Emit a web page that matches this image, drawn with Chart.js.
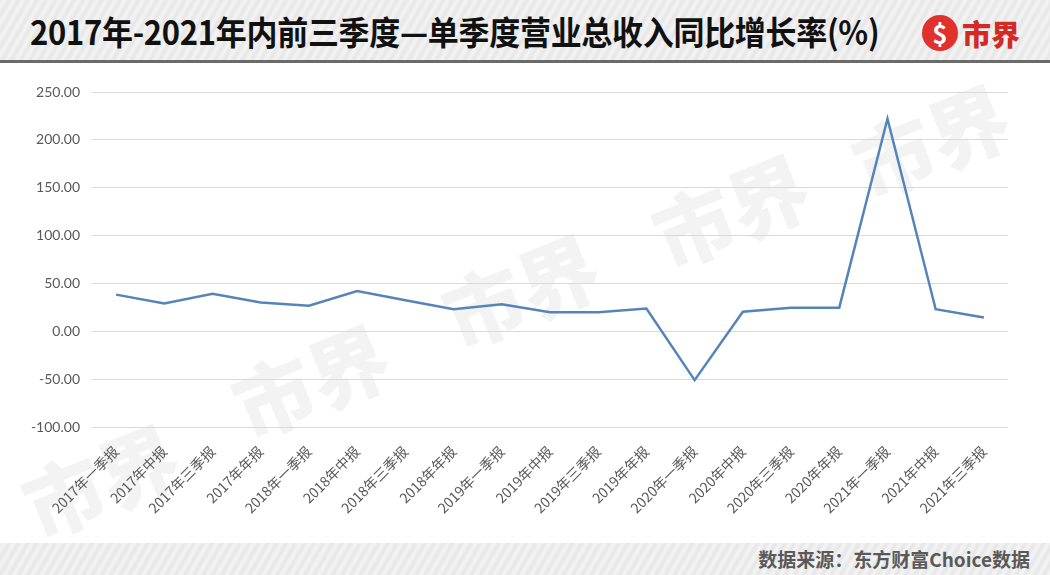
<!DOCTYPE html>
<html>
<head>
<meta charset="utf-8">
<script src="https://cdn.jsdelivr.net/npm/chart.js@4"></script>
<style>
  body { margin: 0; width: 1050px; height: 575px; overflow: hidden; background: #fff; font-family: "Noto Sans CJK SC", sans-serif; position: relative; }
  #head { position: absolute; left: 0; top: 0; width: 1050px; height: 60px;
    background: repeating-linear-gradient(120deg, #e6e6e6 0px, #f4f4f4 4px, #e6e6e6 8px); border-bottom: 3px solid #6b6b6b; }
  #title { position: absolute; left: 30px; top: 6px; font-size: 31px; font-weight: 700; color: #111; white-space: nowrap; letter-spacing: -0.3px; transform: scaleY(1.08); transform-origin: left top; }
  #logo { position: absolute; left: 922px; top: 15px; width: 36px; height: 36px; border-radius: 50%; background: #e0312c; }
  #logo span { position: absolute; left: 0; top: 1px; width: 36px; text-align: center; color: #fff; font-weight: 700; font-size: 26px; line-height: 34px; }
  #logotxt { position: absolute; left: 962px; top: 12px; font-size: 29px; font-weight: 900; color: #d22a25; }
  #foot { position: absolute; left: 0; top: 543px; width: 1050px; height: 32px;
    background: repeating-linear-gradient(120deg, #e6e6e6 0px, #f4f4f4 4px, #e6e6e6 8px); }
  #src { position: absolute; right: 20px; top: 2px; font-size: 19px; font-weight: 700; color: #595959; }
  #wrap { position: absolute; left: 0; top: 64px; width: 1050px; height: 479px; }
  .wm { position: absolute; font-size: 80px; font-weight: 900; color: #f3f3f3; transform: rotate(-22deg); white-space: nowrap; }
</style>
</head>
<body>
<div id="head">
  <div id="title">2017年-2021年内前三季度—单季度营业总收入同比增长率(%)</div>
  <div id="logo"><span>$</span></div>
  <div id="logotxt">市界</div>
</div>
<div class="wm" style="left:20px;top:420px;">市界</div>
<div class="wm" style="left:230px;top:320px;">市界</div>
<div class="wm" style="left:440px;top:230px;">市界</div>
<div class="wm" style="left:650px;top:150px;">市界</div>
<div class="wm" style="left:850px;top:80px;">市界</div>
<div id="wrap"><canvas id="c"></canvas></div>
<div id="foot"><div id="src">数据来源：东方财富Choice数据</div></div>
<script>
const categories = ['2017年一季报','2017年中报','2017年三季报','2017年年报','2018年一季报','2018年中报','2018年三季报','2018年年报','2019年一季报','2019年中报','2019年三季报','2019年年报','2020年一季报','2020年中报','2020年三季报','2020年年报','2021年一季报','2021年中报','2021年三季报'];
const growth = [38.3, 29.0, 39.3, 30.0, 26.8, 42.0, 32.4, 23.0, 28.2, 19.8, 19.8, 23.7, -51.0, 20.5, 24.7, 24.7, 222.0, 23.0, 14.3];

new Chart(document.getElementById('c'), {
  type: 'line',
  data: {
    labels: categories,
    datasets: [{
      data: growth,
      borderColor: '#5585b8',
      borderWidth: 2.5,
      pointRadius: 0,
      tension: 0,
      fill: false
    }]
  },
  options: {
    responsive: true,
    maintainAspectRatio: false,
    animation: false,
    layout: { padding: { left: 0, right: 42, top: 28, bottom: 14 } },
    plugins: { legend: { display: false }, tooltip: { enabled: false } },
    scales: {
      x: {
        offset: true,
        grid: { display: false },
        border: { display: false },
        afterFit: s => { s.height = 102; },
        ticks: { color: '#595959', padding: 8, font: { size: 14, family: '"Noto Sans CJK SC"' }, minRotation: 45, maxRotation: 45, autoSkip: false }
      },
      y: {
        min: -100, max: 250,
        afterFit: s => { s.width = 92; },
        grid: { color: '#d9d9d9', drawTicks: false },
        border: { display: false },
        ticks: { stepSize: 50, color: '#595959', padding: 12, font: { size: 14, family: 'Lato' }, callback: v => v.toFixed(2) }
      }
    }
  }
});
</script>
</body>
</html>
